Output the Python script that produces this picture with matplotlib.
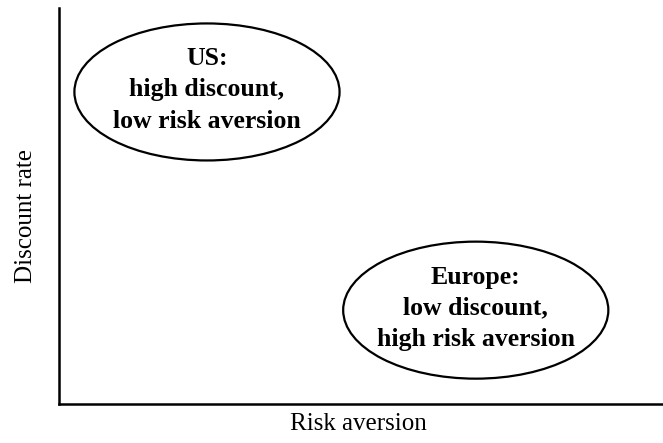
import matplotlib
matplotlib.use("Agg")
import matplotlib.pyplot as plt
from matplotlib.patches import Ellipse

# conceptual positions on a 0-10 scale
regions = ["US:\nhigh discount,\nlow risk aversion",
           "Europe:\nlow discount,\nhigh risk aversion"]
risk_aversion = [2.45, 6.90]
discount_rate = [7.88, 2.37]

plt.rcParams['font.family'] = ['Liberation Serif', 'DejaVu Serif']

fig = plt.figure(figsize=(6.63, 4.43), dpi=100)
ax = fig.add_axes([59/663, 39/443, 604/663, 396/443])
ax.set_xlim(0, 10)
ax.set_ylim(0, 10)

for name, x, y in zip(regions, risk_aversion, discount_rate):
    ax.add_patch(Ellipse((x, y), 4.39, 3.46, fill=False, lw=1.6, color='black'))
    ax.text(x, y + 0.05, name, ha='center', va='center', fontsize=18.5,
            fontweight='bold', linespacing=1.45)

for s in ['top', 'right']:
    ax.spines[s].set_visible(False)
for s in ['left', 'bottom']:
    ax.spines[s].set_linewidth(1.8)
ax.set_xticks([])
ax.set_yticks([])

ax.set_xlabel("Risk aversion", fontsize=18)
ax.set_ylabel("Discount rate", fontsize=18)
ax.xaxis.set_label_coords(0.495, -0.022)
ax.yaxis.set_label_coords(-0.036, 0.475)

fig.savefig("out.png", dpi=100)
